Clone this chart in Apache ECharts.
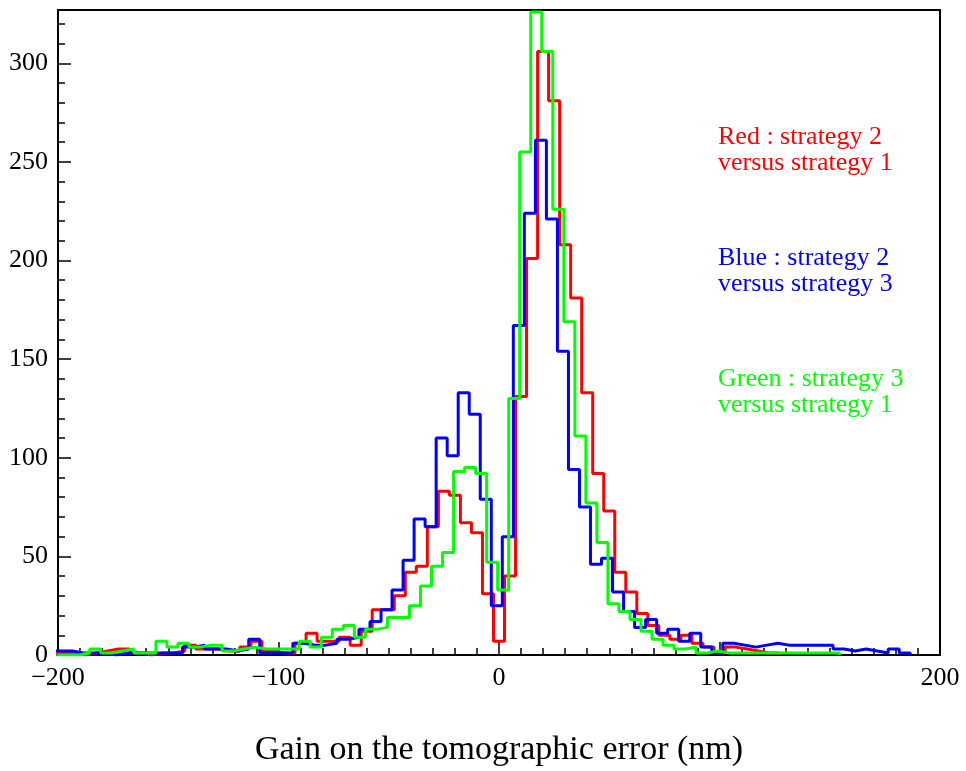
<!DOCTYPE html>
<html>
<head>
<meta charset="utf-8">
<script src="https://cdn.jsdelivr.net/npm/echarts@6/dist/echarts.min.js"></script>
<style>
html, body { margin: 0; padding: 0; background: #fff; }
#chart { width: 966px; height: 771px; }
</style>
</head>
<body>
<div id="chart"></div>
<script>
// histogram bin width (nm) and per-series first bin edge
var BIN = 5;

var redStart = -202.5;
var redCounts = [1, 1, 0, 1, 2, 3, 3, 1, 0, 1,
  1, 2, 5, 3, 3, 2, 2, 4, 7, 2,
  1, 1, 6, 11, 7, 7, 9, 5, 12, 23,
  23, 30, 42, 45, 65, 83, 81, 67, 62, 31,
  7, 40, 131, 201, 306, 281, 208, 181, 133, 92,
  73, 42, 32, 21, 15, 10, 8, 10, 6, 4,
  1, 4, 3, 2, 1, 1];

var blueStart = -203.5;
var blueCounts = [2, 2, 1, 1, 1, 0, 1, 1, 1, 1,
  1, 1, 4, 5, 3, 3, 2, 3, 8, 1,
  1, 1, 6, 5, 5, 6, 8, 9, 13, 17,
  23, 33, 48, 69, 65, 110, 101, 133, 122, 79,
  25, 60, 167, 224, 261, 221, 154, 94, 75, 46,
  49, 32, 22, 14, 18, 11, 13, 7, 11, 4,
  1, 6, 5, 4, 5, 6, 5, 5, 5, 5,
  5, 3, 2, 3, 2, 1, 3, 1];

var greenStart = -200.6;
var greenCounts = [0, 0, 1, 3, 1, 2, 3, 1, 1, 7,
  4, 6, 4, 5, 5, 2, 3, 4, 3, 3,
  3, 3, 7, 4, 9, 13, 15, 9, 13, 14,
  19, 19, 25, 35, 45, 52, 93, 95, 92, 47,
  33, 130, 255, 326, 306, 226, 169, 111, 77, 57,
  26, 22, 18, 12, 8, 5, 3, 4, 1, 2,
  1, 1, 1, 1, 1, 1, 1, 1, 1, 1, 1];

var legendLines = [
  ['Red : strategy 2', 'versus strategy 1'],
  ['Blue : strategy 2', 'versus strategy 3'],
  ['Green : strategy 3', 'versus strategy 1']
];
var colors = ['#ff0000', '#0000ff', '#00ff00'];
var xTitle = 'Gain on the tomographic error (nm)';

function histPoints(start, counts) {
  var pts = [[start, 0]];
  for (var i = 0; i < counts.length; i++) {
    pts.push([start + i * BIN, counts[i]]);
  }
  pts.push([start + counts.length * BIN, 0]);
  return pts;
}

var serif = 'Liberation Serif, Times New Roman, serif';

function histSeries(name, start, counts, color) {
  return {
    name: name,
    type: 'line',
    step: 'end',
    data: histPoints(start, counts),
    showSymbol: false,
    clip: true,
    animation: false,
    lineStyle: { color: color, width: 3 }
  };
}

var texts = [];
legendLines.forEach(function (pair, k) {
  pair.forEach(function (t, j) {
    texts.push({
      type: 'text',
      left: 718,
      top: 124 + k * 121 + j * 26,
      style: { text: t, fill: colors[k], font: '26px ' + serif }
    });
  });
});
texts.push({
  type: 'text',
  x: 499,
  y: 750,
  style: {
    text: xTitle, fill: '#000', font: '34px ' + serif,
    textAlign: 'center', textVerticalAlign: 'middle'
  }
});

var myChart = echarts.init(document.getElementById('chart'));
var option = {
  backgroundColor: '#fff',
  animation: false,
  grid: {
    left: 58, right: 26, top: 10, bottom: 116,
    show: true, borderColor: '#000', borderWidth: 2
  },
  xAxis: {
    type: 'value',
    min: -200, max: 200, interval: 100,
    axisLine: { onZero: false, lineStyle: { color: '#000', width: 2 } },
    axisTick: { inside: true, length: 13, lineStyle: { color: '#000', width: 1.5 } },
    minorTick: { show: true, splitNumber: 10, length: 7, lineStyle: { color: '#000', width: 1.5 } },
    splitLine: { show: false },
    axisLabel: {
      color: '#000', fontFamily: serif, fontSize: 26, margin: 10,
      formatter: function (v) { return String(v).replace('-', '\u2212'); }
    }
  },
  yAxis: {
    type: 'value',
    min: 0, max: 327, interval: 50,
    axisLine: { show: true, onZero: false, lineStyle: { color: '#000', width: 2 } },
    axisTick: { show: true, inside: true, length: 13, lineStyle: { color: '#000', width: 1.5 } },
    minorTick: { show: true, splitNumber: 5, length: 7, lineStyle: { color: '#000', width: 1.5 } },
    splitLine: { show: false },
    axisLabel: { color: '#000', fontFamily: serif, fontSize: 26, margin: 10, showMaxLabel: false }
  },
  graphic: texts,
  series: [
    histSeries('Red', redStart, redCounts, colors[0]),
    histSeries('Blue', blueStart, blueCounts, colors[1]),
    histSeries('Green', greenStart, greenCounts, colors[2])
  ]
};
myChart.setOption(option);
</script>
</body>
</html>
